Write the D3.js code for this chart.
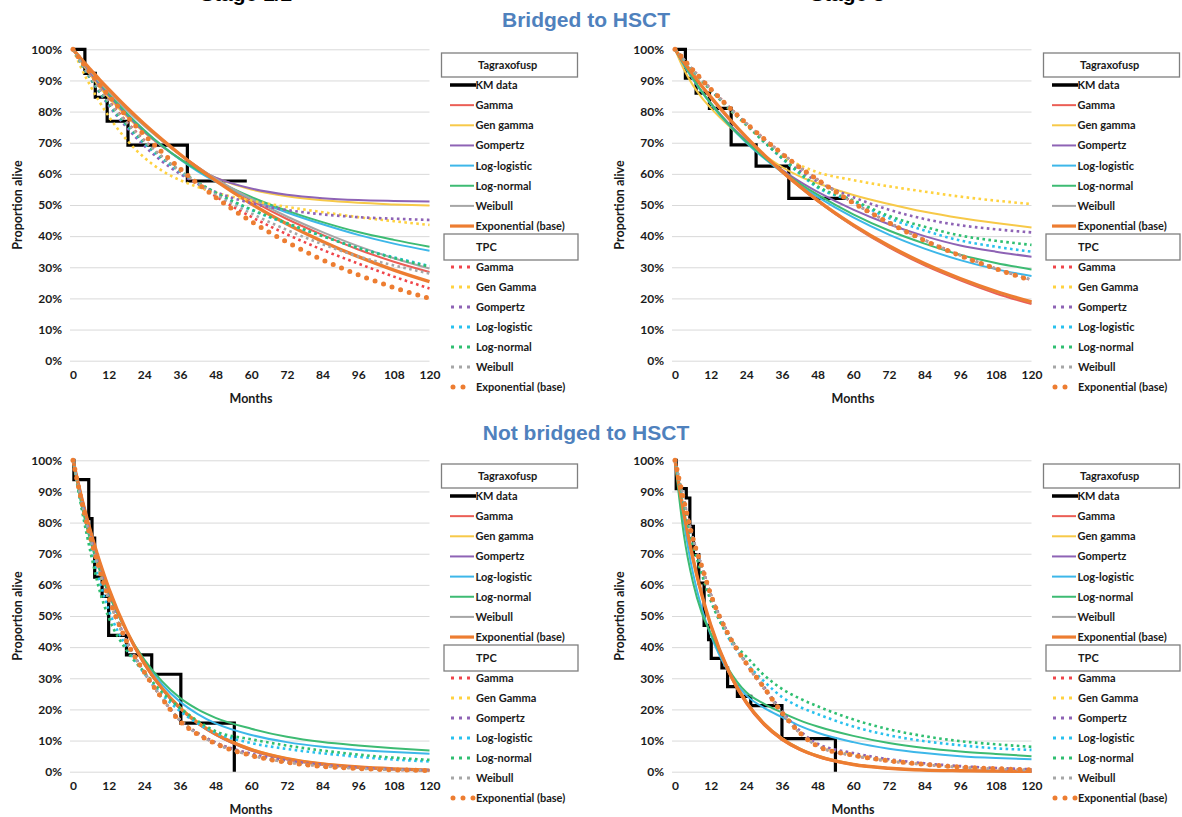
<!DOCTYPE html>
<html><head><meta charset="utf-8">
<script src="https://cdn.jsdelivr.net/npm/d3@7"></script>
<style>
body{margin:0;background:#fff;}
svg text{font-family:Lato,"Open Sans",sans-serif;font-weight:700;fill:#1a1a1a;}
</style>
</head><body>
<svg id="c" width="1182" height="817"></svg>
<script>
// ---------- shared axes / labels ----------
const months = [0,3,6,9,12,18,24,30,36,42,48,60,72,84,96,108,120];
const xTicks = [0,12,24,36,48,60,72,84,96,108,120];
const yTicks = [0,10,20,30,40,50,60,70,80,90,100];
const tagNames = ["Gamma","Gen gamma","Gompertz","Log-logistic","Log-normal","Weibull","Exponential (base)"];
const tpcNames = ["Gamma","Gen Gamma","Gompertz","Log-logistic","Log-normal","Weibull","Exponential (base)"];
const tagColors = ["#EB5E55","#F7C948","#8E63B5","#3DB7E9","#3DBB73","#A6A6A6","#ED7D31"];
const tpcColors = ["#F0454A","#FFD23F","#8E63B5","#29C1EE","#2FBF71","#A6A6A6","#ED7D31"];
const sectionTitles = ["Bridged to HSCT","Not bridged to HSCT"];
const clippedTitles = ["Stage 1/2","Stage 3"];

// ---------- Panel TL: bridged, left ----------
const kmTL = [[0,100],[4,100],[4,92.3],[7.5,92.3],[7.5,84.6],[11.5,84.6],[11.5,76.9],[18.5,76.9],[18.5,69.2],[38.5,69.2],[38.5,57.7],[58.5,57.7]];
const tagTL = [
  [100,96.5,93,89.8,86.8,81,75.8,70.9,66.3,62.2,58.4,51.5,45.5,40.4,35.7,31.8,28.5],
  [100,95.5,91.5,87.8,84.5,78.5,73.3,68.8,64.8,61.5,58.8,55.0,52.8,51.5,50.7,50.2,49.8],
  [100,96,92.2,88.6,85.2,79,73.5,68.8,64.8,61.5,58.8,55.3,53.3,52.2,51.6,51.3,51.1],
  [100,96.5,92.8,89.2,85.8,79.6,74,69,64.6,60.8,57.5,52,47.6,43.8,40.4,37.6,35.3],
  [100,96.8,93,89.3,85.8,79.5,73.9,69,64.8,61.2,58,52.6,48.2,44.5,41.3,38.8,36.6],
  [100,96.3,92.8,89.5,86.4,80.6,75.4,70.6,66.2,62.2,58.5,52,46.3,41.3,36.8,32.9,29.6],
  [100,96.6,93.4,90.2,87.2,81.4,76,71,66.3,61.9,57.8,50.4,43.9,38.3,33.4,29.1,25.4]
];
const tpcTL = [
  [100,95.5,91.2,87.2,83.5,76.8,70.8,65.5,60.8,56.6,52.8,46.2,40.6,35.6,31.2,27,23.2],
  [100,93.5,88,83,78.5,71,65.2,61,58,55.8,54,51.4,49.4,47.7,46.1,44.8,43.6],
  [100,95,90.3,86,82,75,69,64,60,56.8,54.2,50.6,48.4,47,46.1,45.6,45.2],
  [100,95,90.5,86.3,82.4,75.6,69.8,64.9,60.7,57,53.8,48.4,44,40,36.2,33.2,30.4],
  [100,95.2,90.6,86.4,82.6,75.9,70.2,65.2,61,57.3,54,48.6,44.2,40,36.2,33,30.2],
  [100,95.3,91,87,83.2,76.5,70.6,65.5,61,57,53.4,47.3,42,37.4,33.5,30.6,28],
  [100,96,92.3,88.6,85.1,78.6,72.5,66.9,61.7,56.9,52.5,44.7,38.1,32.4,27.6,23.5,20]
];

// ---------- Panel TR: bridged, right ----------
const kmTR = [[0,100],[3.5,100],[3.5,90.7],[7.1,90.7],[7.1,85.9],[11.6,85.9],[11.6,81],[18.9,81],[18.9,69.3],[27.3,69.3],[27.3,62.5],[38.3,62.5],[38.3,52.1],[58.2,52.1]];
const tagTR = [
  [100,95.9,92,88.2,84.6,77.8,71.6,65.9,60.6,55.7,51.2,43.2,36.4,30.6,25.8,21.6,18.2],
  [100,93.5,88.5,84.5,81.2,75.5,70.5,66,62.2,59.2,57,53.2,50.3,47.8,45.8,44.2,42.8],
  [100,95,90.5,86.5,82.8,76.3,70.6,65.6,61.3,57.5,54.2,48.5,43.8,40,37,35,33.4],
  [100,95,90.5,86.3,82.5,75.8,70,65,60.5,56.4,52.6,46,40.5,36,32.3,29.4,27.2],
  [100,95.2,90.7,86.5,82.7,76,70.3,65.3,60.9,56.9,53.3,47,41.8,37.6,34,31.4,29.3],
  [100,95.8,91.9,88.1,84.5,77.8,71.6,65.9,60.6,55.8,51.3,43.4,36.7,31,26.2,22.1,18.7],
  [100,95.9,92,88.2,84.7,78,71.8,66.1,60.8,56,51.5,43.6,36.9,31.2,26.4,22.3,18.9]
];
const tpcTR = [
  [100,96.8,93.5,90.4,87.4,81.7,76.3,71.3,66.6,62.2,58.2,50.8,44.4,38.8,33.9,29.6,25.9],
  [100,96.5,93,89.8,86.8,81,75.5,70.3,65.5,62.8,60.5,58,56,54.3,52.7,51.4,50.3],
  [100,96.6,93.2,90,87,81.3,76,70.5,65,61,57.5,52.5,48.5,45.5,43.5,42.2,41.2],
  [100,96.6,93.2,90,87,81.3,75.8,70.2,65,60,55.6,51.2,45.8,41.8,38.6,36.6,35],
  [100,96.6,93.2,90,87,81.3,75.9,70.3,65.2,60.3,56,51.5,46.5,43,40.2,38.5,37.2],
  [100,96.7,93.4,90.3,87.3,81.6,76.2,71.2,66.5,62.1,58.1,50.7,44.3,38.7,33.8,29.6,26],
  [100,96.7,93.4,90.3,87.3,81.6,76.2,71.2,66.5,62.1,58.1,50.7,44.3,38.6,33.7,29.5,25.7]
];

// ---------- Panel BL: not bridged, left ----------
const kmBL = [[0,100],[0.3,100],[0.3,93.8],[5.3,93.8],[5.3,81.3],[6.4,81.3],[6.4,75],[7.3,75],[7.3,62.5],[9.8,62.5],[9.8,56.3],[12,56.3],[12,43.8],[18,43.8],[18,37.5],[26.5,37.5],[26.5,31.3],[36.3,31.3],[36.3,15.6],[54.3,15.6],[54.3,0]];
const tagBL = [
  [100,88,77,67.4,59,45,34.5,26.5,20.3,15.6,12,7,4.1,2.4,1.4,0.8,0.5],
  [100,87,76.3,67,58.8,45.3,35,27,20.8,16,12.3,7.3,4.3,2.6,1.5,0.9,0.5],
  [100,87.8,77,67.4,59,45.2,34.6,26.4,20.2,15.4,11.8,6.8,3.9,2.2,1.3,0.7,0.4],
  [100,86.5,75,65.5,57.5,45,35.5,28,22.5,18.5,15.5,11.8,9.5,8,7,6.3,5.8],
  [100,85,73.5,64.5,57,45.2,36,29,23.7,20,17.3,13.8,11.2,9.5,8.4,7.5,6.8],
  [100,87.5,76.6,67.1,58.8,45.1,34.6,26.6,20.4,15.7,12.1,7.1,4.2,2.5,1.5,0.9,0.5],
  [100,87.6,76.8,67.3,59,45.3,34.8,26.7,20.5,15.7,12.1,7.1,4.2,2.5,1.5,0.9,0.5]
];
const tpcBL = [
  [100,86.3,74.5,64.3,55.6,41.8,31.8,23.5,16.5,12.2,9.1,5.3,3.1,1.8,1.1,0.6,0.4],
  [100,86,74.2,64,55.4,41.7,31.8,23.6,16.8,12.5,9.4,5.6,3.4,2,1.2,0.7,0.4],
  [100,86.8,75.2,65,56.2,42.2,32,23.6,16.6,12.4,9.4,5.8,3.6,2.2,1.3,0.8,0.5],
  [100,85,72,61,52,40,31.5,24.7,19.5,15.5,12.5,9.2,7.3,5.9,4.8,3.9,3.3],
  [100,84,70,58,49.5,39,32,25.5,20.5,16.3,13,10.4,8.4,6.8,5.5,4.5,3.8],
  [100,86.2,74.4,64.2,55.5,41.8,31.9,23.6,16.4,12.1,9,5.2,3,1.8,1,0.6,0.4],
  [100,86.5,74.8,64.7,56,42,32,23.5,16.2,12,9,5.2,3,1.7,1,0.6,0.4]
];

// ---------- Panel BR: not bridged, right ----------
const kmBR = [[0,100],[0.4,100],[0.4,90.9],[3.8,90.9],[3.8,87.9],[5,87.9],[5,78.8],[6.2,78.8],[6.2,69.7],[8,69.7],[8,60.6],[9.8,60.6],[9.8,47],[11.3,47],[11.3,42.4],[12.2,42.4],[12.2,36.4],[15.8,36.4],[15.8,33.3],[17.7,33.3],[17.7,27.3],[21,27.3],[21,24.2],[25.5,24.2],[25.5,21.2],[36,21.2],[36,10.6],[54,10.6],[54,0]];
const tagBR = [
  [100,83.5,69,57,47,32,21.8,14.9,10.2,7,4.8,2.2,1,0.5,0.3,0.2,0.1],
  [100,82,68,56.5,47,32.5,22.5,15.6,10.8,7.5,5.2,2.5,1.2,0.6,0.3,0.2,0.1],
  [100,83,68.9,57.1,47.3,32.5,22.3,15.3,10.5,7.2,5,2.4,1.2,0.6,0.3,0.2,0.1],
  [100,80,64,52.5,44,32,24.5,20.5,17.5,14.7,12.5,9.5,7.4,6,5,4.4,4],
  [100,76,61,51,44.5,33,25.5,21.8,19,16.5,14.5,11.5,9.2,7.6,6.5,5.7,5],
  [100,82.5,68.4,56.8,47.2,32.6,22.5,15.5,10.7,7.4,5.1,2.4,1.1,0.5,0.3,0.1,0.1],
  [100,82.9,68.7,56.9,47.2,32.4,22.3,15.3,10.5,7.2,5,2.3,1.1,0.5,0.3,0.2,0.1]
];
const tpcBR = [
  [100,87.2,75.3,66,57,44,34.6,26.6,18.8,12.5,8.3,5.2,3.4,2.3,1.4,0.9,0.5],
  [100,86.8,75,65.8,57,44.2,35,27.2,19.3,13,8.7,5.6,3.7,2.5,1.6,1.1,0.7],
  [100,87,75.2,66,57.2,44.3,35,27.2,19.5,13.2,9,6,4,2.7,1.8,1.2,0.8],
  [100,86,73.5,64,55.5,43,35,29,24,20.8,18.5,14.5,11.7,9.8,8.5,7.5,7],
  [100,86,73,63.5,55,43.5,37,31,26.6,23.5,21,16.8,13.6,11.4,9.8,8.8,8],
  [100,87.1,75.1,65.9,56.9,43.9,34.6,26.7,18.9,12.4,8.2,5.2,3.4,2.3,1.4,0.9,0.5],
  [100,87,75,66,57,44,34.8,27,19,12.5,8.2,5.3,3.5,2.4,1.5,1,0.6]
];

// ---------- drawing ----------
const svg = d3.select("#c");
svg.append("rect").attr("width",1182).attr("height",817).attr("fill","#fff");

const panels = [
  {ox:0,   oy:0,   km:kmTL, tag:tagTL, tpc:tpcTL},
  {ox:602, oy:0,   km:kmTR, tag:tagTR, tpc:tpcTR},
  {ox:0,   oy:411, km:kmBL, tag:tagBL, tpc:tpcBL},
  {ox:602, oy:411, km:kmBR, tag:tagBR, tpc:tpcBR}
];

function tpcStyle(sel, i){
  if (i === 6) sel.attr("stroke-width",5).attr("stroke-dasharray","0,9").attr("stroke-linecap","round");
  else sel.attr("stroke-width",2.6).attr("stroke-dasharray","2.6,3.4").attr("stroke-linecap","butt");
}

panels.forEach(p => {
  const g = svg.append("g");
  const x = d3.scaleLinear().domain([0,120]).range([p.ox+73, p.ox+429.5]);
  const y = d3.scaleLinear().domain([0,100]).range([p.oy+360.7, p.oy+49.3]);

  // gridlines
  const grid = g.append("g").attr("transform",`translate(${p.ox+429.5},0)`)
    .call(d3.axisLeft(y).tickValues(yTicks).tickSize(429.5-70).tickFormat(""));
  grid.select(".domain").remove();
  grid.selectAll("line").attr("stroke","#d9d9d9").attr("stroke-width",1);

  // y labels
  const ya = g.append("g").attr("transform",`translate(${p.ox+62},0)`)
    .call(d3.axisLeft(y).tickValues(yTicks).tickSize(0).tickPadding(0).tickFormat(d=>d+"%"));
  ya.select(".domain").remove();
  ya.selectAll("text").style("font-size","12px").attr("fill","#1a1a1a").style("font-family","Lato").style("font-weight","700");

  // x labels
  const xa = g.append("g").attr("transform",`translate(0,${p.oy+370})`)
    .call(d3.axisBottom(x).tickValues(xTicks).tickSize(0).tickPadding(0));
  xa.select(".domain").remove();
  xa.selectAll("text").style("font-size","12px").attr("fill","#1a1a1a").style("font-family","Lato").style("font-weight","700");

  // axis titles
  g.append("text").attr("x",p.ox+251).attr("y",p.oy+403).attr("text-anchor","middle")
    .style("font-size","12.5px").text("Months");
  g.append("text").attr("transform",`translate(${p.ox+22},${p.oy+205}) rotate(-90)`)
    .attr("text-anchor","middle").style("font-size","12.5px").text("Proportion alive");

  // KM
  const kmLine = d3.line().x(d=>x(d[0])).y(d=>y(d[1]));
  g.append("path").attr("d",kmLine(p.km)).attr("fill","none").attr("stroke","#000")
    .attr("stroke-width",3.2).attr("stroke-linejoin","miter");

  const curve = d3.line().x((d,i)=>x(months[i])).y(d=>y(d)).curve(d3.curveMonotoneX);
  // tagraxofusp model curves
  p.tag.forEach((s,i) => {
    g.append("path").attr("d",curve(s)).attr("fill","none").attr("stroke",tagColors[i])
      .attr("stroke-width", i===6 ? 3.4 : 2);
  });
  // TPC model curves
  p.tpc.forEach((s,i) => {
    g.append("path").attr("d",curve(s)).attr("fill","none").attr("stroke",tpcColors[i]).call(tpcStyle,i);
  });

  // legend
  const L = g.append("g");
  const lx = p.ox;
  L.append("rect").attr("x",lx+441.5).attr("y",p.oy+53).attr("width",136).attr("height",24)
    .attr("fill","#fff").attr("stroke","#7f7f7f").attr("stroke-width",1.3);
  L.append("text").attr("x",lx+478).attr("y",p.oy+69).style("font-size","11px").text("Tagraxofusp");
  const rowsA = ["KM data"].concat(tagNames);
  rowsA.forEach((n,k) => {
    const yy = p.oy + 85 + k*20.15;
    const col = k===0 ? "#000" : tagColors[k-1];
    const w = k===0 ? 3.5 : (k===7 ? 3.2 : 2);
    L.append("line").attr("x1",lx+450).attr("x2",lx+(k===0?476:474)).attr("y1",yy).attr("y2",yy)
      .attr("stroke",col).attr("stroke-width",w);
    L.append("text").attr("x",lx+475.5).attr("y",yy+4).style("font-size","11px").text(n);
  });
  L.append("rect").attr("x",lx+444).attr("y",p.oy+234).attr("width",134).attr("height",26)
    .attr("fill","#fff").attr("stroke","#7f7f7f").attr("stroke-width",1.3);
  L.append("text").attr("x",lx+476).attr("y",p.oy+251).style("font-size","11px").text("TPC");
  tpcNames.forEach((n,k) => {
    const yy = p.oy + 267 + k*20;
    if (k===6) {
      L.append("line").attr("x1",lx+453).attr("x2",lx+(p.oy>0?474:464)).attr("y1",yy).attr("y2",yy)
        .attr("stroke",tpcColors[k]).attr("stroke-width",5).attr("stroke-dasharray","0,10").attr("stroke-linecap","round");
    } else {
      L.append("line").attr("x1",lx+451).attr("x2",lx+470).attr("y1",yy).attr("y2",yy)
        .attr("stroke",tpcColors[k]).attr("stroke-width",3).attr("stroke-dasharray","3,5");
    }
    L.append("text").attr("x",lx+476).attr("y",yy+4).style("font-size","11px").text(n);
  });
});

// section titles
svg.append("text").attr("x",586).attr("y",27).attr("text-anchor","middle")
  .style("font-family","'Liberation Sans',Arial,sans-serif").style("font-size","21px").style("fill","#4F81BD")
  .text(sectionTitles[0]);
svg.append("text").attr("x",586).attr("y",440).attr("text-anchor","middle")
  .style("font-family","'Liberation Sans',Arial,sans-serif").style("font-size","21px").style("fill","#4F81BD")
  .text(sectionTitles[1]);
// panel headings cut by the top edge, as in the source image
svg.append("text").attr("x",200).attr("y",0.5)
  .style("font-family","'Liberation Sans',Arial,sans-serif").style("font-size","21px").style("fill","#000")
  .text(clippedTitles[0]);
svg.append("text").attr("x",810).attr("y",0.5)
  .style("font-family","'Liberation Sans',Arial,sans-serif").style("font-size","21px").style("fill","#000")
  .text(clippedTitles[1]);
</script>
</body></html>
